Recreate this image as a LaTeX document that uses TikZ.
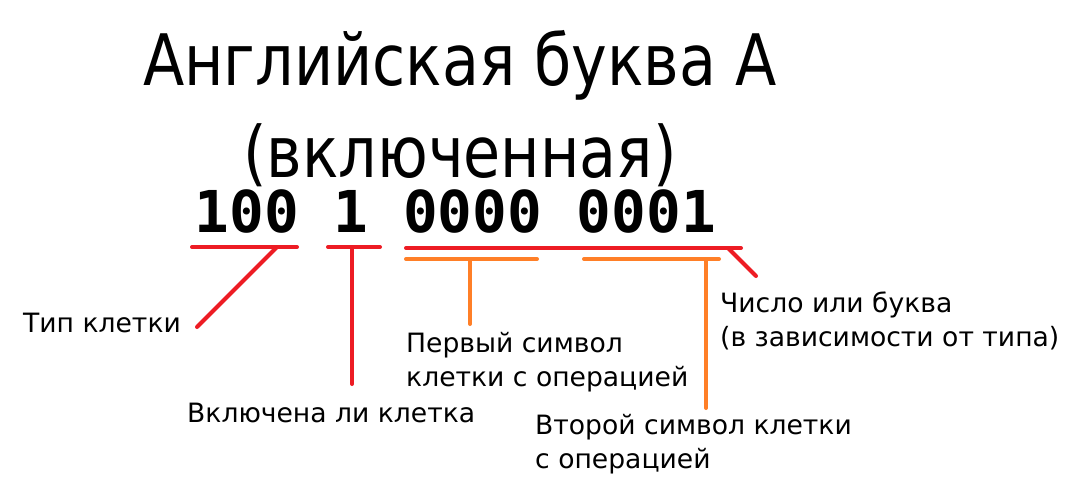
\documentclass[tikz,border=0pt]{standalone}
\usepackage{fontspec}
\usepackage{xcolor}
\usetikzlibrary{positioning}
\setmainfont{DejaVu Sans}
\newfontfamily\titlefont{DejaVu Sans}[FakeStretch=0.85]
\newfontfamily\bitsfont{DejaVu Sans Mono}
\definecolor{markred}{HTML}{ED1C24}
\definecolor{markorange}{HTML}{FF7F27}

\begin{document}
\begin{tikzpicture}[x=1pt,y=-1pt,
  redline/.style={markred,line width=4pt,line cap=round},
  orangeline/.style={markorange,line width=4pt,line cap=round},
  note/.style={anchor=base west,inner sep=0pt,align=left,font=\fontsize{26.6}{34}\selectfont}]
\useasboundingbox (0,0) rectangle (1075,492);
\node[anchor=base,inner sep=0pt,align=center,font=\titlefont\fontsize{71}{92}\selectfont] (title) at (460,177) {Английская буква А\\(включенная)};
\node[anchor=base west,inner sep=0pt,font=\bitsfont\bfseries\fontsize{57.7}{60}\selectfont] (bits) at (194.5,232) {100 1 0000 0001};

\coordinate (typeL) at (192,247); \coordinate (typeR) at (297,247);
\coordinate (onL) at (328,247); \coordinate (onR) at (380,247);
\coordinate (valL) at (406,248); \coordinate (valR) at (741,248);
\coordinate (firstL) at (406,259); \coordinate (firstR) at (537,259);
\coordinate (secondL) at (584,259); \coordinate (secondR) at (719,259);
\draw[redline] (typeL) -- (typeR);
\draw[redline] (onL) -- (onR);
\draw[redline] (valL) -- (valR);
\draw[orangeline] (firstL) -- (firstR);
\draw[orangeline] (secondL) -- (secondR);

\node[note] (typelbl) at (23,332) {Тип клетки};
\node[note] (onlbl) at (187,422) {Включена ли клетка};
\node[note] (firstlbl) at (406,386) {Первый символ\\клетки с операцией};
\node[note] (vallbl) at (720,346) {Число или буква\\(в зависимости от типа)};
\node[note] (secondlbl) at (535,468) {Второй символ клетки\\с операцией};

\coordinate (typeA) at (277,247); \coordinate (typeB) at (197,327);
\coordinate (onA) at (352,247); \coordinate (onB) at (352,384);
\coordinate (firstA) at (470,259); \coordinate (firstB) at (470,324);
\coordinate (secondA) at (706,259); \coordinate (secondB) at (706,408);
\coordinate (valA) at (728,248); \coordinate (valB) at (756,276);
\draw[redline] (typeA) -- (typeB);
\draw[redline] (onA) -- (onB);
\draw[redline] (valA) -- (valB);
\draw[orangeline] (firstA) -- (firstB);
\draw[orangeline] (secondA) -- (secondB);
\end{tikzpicture}
\end{document}
